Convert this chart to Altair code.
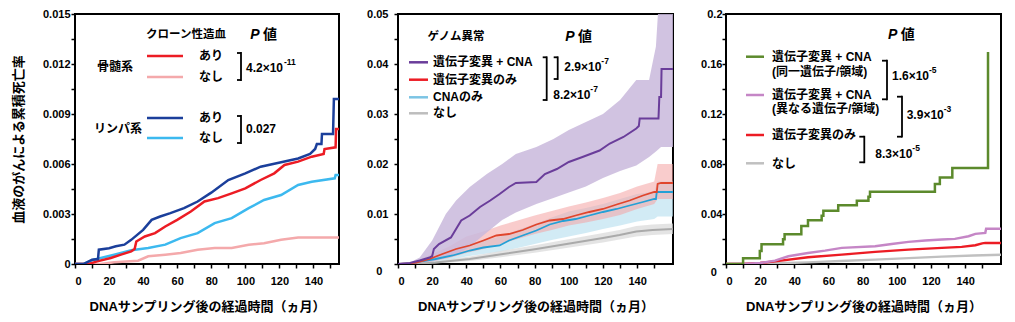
import altair as alt
import pandas as pd

# ---------------- data ----------------
# Left panel: clonal hematopoiesis (myeloid / lymphoid, yes / no)
L_mye_yes_x = [0, 8, 13, 21, 27, 33, 35, 36, 41, 47, 53, 60, 68, 76, 84, 92, 100, 109, 117, 123, 131, 139, 146, 146.5, 153, 153.3, 155]
L_mye_yes_y = [0, 0, 0.00016, 0.00036, 0.00056, 0.00076, 0.0009, 0.00135, 0.00165, 0.00185, 0.00225, 0.00265, 0.00315, 0.00375, 0.00395, 0.00424, 0.00454, 0.00504, 0.00544, 0.00594, 0.00614, 0.00644, 0.0066, 0.0069, 0.0070, 0.0081, 0.0081]
L_mye_no_x = [0, 15, 23, 37, 43, 53, 62, 72, 82, 92, 102, 111, 121, 131, 155]
L_mye_no_y = [0, 0, 0.0001, 0.0002, 0.00046, 0.00056, 0.00066, 0.00086, 0.00096, 0.00096, 0.00116, 0.00125, 0.00145, 0.00159, 0.00159]
L_lym_yes_x = [0, 5, 10, 13.5, 14, 20, 24, 29, 33, 40, 45, 50, 56, 64, 72, 80, 90, 100, 109, 121, 131, 138, 141, 142, 144.7, 145, 151.5, 152, 155]
L_lym_yes_y = [0, 0, 0.00026, 0.0003, 0.00086, 0.00095, 0.00106, 0.00116, 0.00145, 0.00205, 0.00265, 0.00285, 0.00305, 0.00335, 0.00375, 0.00428, 0.00504, 0.00544, 0.00584, 0.0061, 0.00633, 0.0066, 0.0069, 0.0072, 0.0072, 0.0078, 0.0078, 0.0099, 0.0099]
L_lym_no_x = [0, 5, 11, 23, 33, 43, 53, 62, 72, 82, 92, 102, 111, 121, 131, 139, 152.5, 153, 155]
L_lym_no_y = [0, 0, 0.00026, 0.00056, 0.00082, 0.00096, 0.00116, 0.00155, 0.00185, 0.00245, 0.00275, 0.00335, 0.00384, 0.00414, 0.00474, 0.00494, 0.00514, 0.00534, 0.00534]

# Middle panel: genomic abnormality
M_both_x = [0, 7, 12.7, 18.5, 20, 21, 24, 31, 34, 37, 42, 48, 54, 59.5, 65, 69, 81, 86, 93, 100, 108, 118, 124, 132, 139.5, 141, 141.5, 152.5, 153, 154, 154.3, 161]
M_both_y = [0, 0.0002, 0.0007, 0.0013, 0.0016, 0.0030, 0.0040, 0.0053, 0.0070, 0.0087, 0.0097, 0.0114, 0.0127, 0.0140, 0.0154, 0.0162, 0.0164, 0.0180, 0.0190, 0.0204, 0.0214, 0.0227, 0.0241, 0.0254, 0.0271, 0.0276, 0.0291, 0.0291, 0.0334, 0.0334, 0.0390, 0.0390]
M_both_band_x = [0, 7, 12.7, 20, 28, 34, 42, 52, 61, 69, 81, 91, 100, 110, 120, 130, 139.5, 147, 151, 154, 161]
M_both_hi = [0, 0.0003, 0.0013, 0.0047, 0.0100, 0.0127, 0.0154, 0.0180, 0.0200, 0.0220, 0.0234, 0.0250, 0.0268, 0.0284, 0.0300, 0.0328, 0.0368, 0.0368, 0.0435, 0.0600, 0.0600]
M_both_lo = [0, 0.0001, 0.0003, 0.0005, 0.0012, 0.0018, 0.0035, 0.0063, 0.0088, 0.0103, 0.0120, 0.0132, 0.0143, 0.0155, 0.0172, 0.0186, 0.0197, 0.0214, 0.0225, 0.0234, 0.0234]

M_mut_x = [0, 7, 10.7, 18.5, 26, 34, 42, 50, 57.6, 65, 73, 81, 88.8, 96.6, 104, 112, 120, 128, 135.6, 143.4, 150, 151.5, 152, 154, 161]
M_mut_y = [0, 0.0001, 0.0003, 0.0010, 0.0020, 0.0030, 0.0037, 0.0047, 0.0057, 0.0060, 0.0068, 0.0079, 0.0087, 0.0090, 0.0097, 0.0104, 0.0110, 0.0119, 0.0127, 0.0137, 0.0144, 0.0144, 0.0160, 0.0162, 0.0162]
M_band_x = [0, 7, 12, 20, 30, 40, 50, 60, 70, 80, 90, 100, 110, 120, 130, 140, 150, 152, 161]
M_mut_hi = [0, 0.0002, 0.0008, 0.0020, 0.0035, 0.0055, 0.0065, 0.0077, 0.0087, 0.0097, 0.0106, 0.0115, 0.0123, 0.0132, 0.0142, 0.0155, 0.0165, 0.0200, 0.0200]
M_mut_lo = [0, 0, 0.0001, 0.0005, 0.0012, 0.0022, 0.0030, 0.0040, 0.0050, 0.0060, 0.0068, 0.0077, 0.0083, 0.0090, 0.0098, 0.0110, 0.0120, 0.0130, 0.0130]

M_cna_x = [0, 7, 12.7, 22, 32, 42, 50, 59.5, 65, 73, 81, 88.8, 96.6, 104, 112, 120, 128, 135.6, 143.4, 150, 151, 151.5, 161]
M_cna_y = [0, 0.0001, 0.0005, 0.0010, 0.0017, 0.0027, 0.0033, 0.0037, 0.0047, 0.0057, 0.0067, 0.0079, 0.0086, 0.0090, 0.0097, 0.0104, 0.0110, 0.0117, 0.0124, 0.0130, 0.0130, 0.0144, 0.0144]
M_cna_hi = [0, 0.0001, 0.0006, 0.0015, 0.0025, 0.0040, 0.0047, 0.0055, 0.0068, 0.0080, 0.0093, 0.0105, 0.0112, 0.0120, 0.0130, 0.0140, 0.0145, 0.0165, 0.0165]
M_cna_lo = [0, 0, 0, 0.0003, 0.0008, 0.0015, 0.0020, 0.0025, 0.0032, 0.0040, 0.0048, 0.0055, 0.0062, 0.0070, 0.0077, 0.0085, 0.0090, 0.0095, 0.0095]

M_none_x = [0, 10, 22, 42, 61.5, 81, 100.5, 120, 129.7, 139.5, 149, 161]
M_none_y = [0, 0, 0.0003, 0.0010, 0.0020, 0.0030, 0.0041, 0.0052, 0.0058, 0.0065, 0.0068, 0.0070]
M_none_hi = [0, 0.0001, 0.0006, 0.0015, 0.0027, 0.0038, 0.0050, 0.0062, 0.0068, 0.0076, 0.0079, 0.0081]
M_none_lo = [0, 0, 0.0001, 0.0006, 0.0014, 0.0023, 0.0033, 0.0043, 0.0049, 0.0055, 0.0058, 0.0060]

# Right panel: mutation + CNA by gene/region
R_same_x = [0, 10, 19.8, 20.8, 33.4, 34.3, 44.1, 48, 56, 57, 65.7, 76.6, 83.4, 84.3, 122.3, 125.2, 132.5, 153.4]
R_same_y = [0, 0.0046, 0.0105, 0.0158, 0.0198, 0.0238, 0.0305, 0.0351, 0.0386, 0.0426, 0.0471, 0.0506, 0.0538, 0.0578, 0.0640, 0.0693, 0.0769, 0.1697]
R_diff_x = [0, 10, 20, 28.7, 36.5, 48, 58, 67.8, 87.3, 97, 106.8, 116.6, 126.4, 134, 142, 146, 151.8, 152.3, 161]
R_diff_y = [0, 0, 0.0008, 0.0027, 0.0062, 0.0088, 0.0107, 0.0129, 0.0142, 0.0160, 0.0177, 0.0188, 0.0196, 0.0201, 0.0222, 0.0241, 0.0249, 0.0282, 0.0282]
R_mut_x = [0, 10, 20, 28.7, 48, 67.8, 87.3, 106.8, 126.4, 138, 146, 150, 151.8, 161]
R_mut_y = [0, 0, 0.0008, 0.0021, 0.0054, 0.0075, 0.0097, 0.0115, 0.0129, 0.0137, 0.0150, 0.0165, 0.0169, 0.0169]
R_none_x = [0, 10, 30, 48, 67, 87.3, 107, 126.4, 145, 161]
R_none_y = [0, 0, 0.0006, 0.0013, 0.0024, 0.0035, 0.0047, 0.0059, 0.0068, 0.0075]

XTITLE = "DNAサンプリング後の経過時間（ヵ月）"
YTITLE = "血液のがんによる累積死亡率"

# ---------------- helpers ----------------
FONT = "Liberation Sans, Noto Sans CJK JP"
ONE = pd.DataFrame({"k": [0]})


def xspec(dom):
    return alt.X("x:Q", scale=alt.Scale(domain=dom, nice=False, zero=False),
                 axis=alt.Axis(values=list(range(0, 151, 10)),
                               labelExpr="datum.value % 20 == 0 ? datum.label : ''",
                               title=XTITLE, labelPadding=7, titlePadding=14))


def yspec(field, top, step, fmt, title, pad, hide_zero):
    n = int(round(top / (step / 2)))
    vals = [round(i * step / 2, 6) for i in range(n + 1)]
    cond = "round(datum.value / %g) %% 2 == 0" % (step / 2)
    if hide_zero:
        cond += " && datum.value > 0"
    ax = dict(values=vals, format=fmt, labelExpr=cond + " ? datum.label : ''",
              labelPadding=pad)
    if title:
        ax["title"] = title
        ax["titlePadding"] = 17
    else:
        ax["title"] = None
    return alt.Y(field, scale=alt.Scale(domain=[0, top], nice=False, zero=True),
                 axis=alt.Axis(**ax))


def line(xs, ys, color, width, X, Y, interp="linear"):
    df = pd.DataFrame({"x": xs, "y": ys})
    return alt.Chart(df).mark_line(color=color, strokeWidth=width, interpolate=interp,
                                   clip=True, strokeJoin="miter").encode(x=X, y=Y)


def band(xs, lo, hi, color, op, X, Ylo, interp="linear"):
    df = pd.DataFrame({"x": xs, "lo": lo, "hi": hi})
    return alt.Chart(df).mark_area(color=color, opacity=op, interpolate=interp,
                                   clip=True).encode(x=X, y=Ylo, y2=alt.Y2("hi:Q"))


def T(text, x, y, size=12, align="left", style="normal", weight="bold"):
    return alt.Chart(ONE).mark_text(text=text, align=align, baseline="middle", fontSize=size,
                                    fontWeight=weight, font=FONT, fontStyle=style,
                                    color="black").encode(x=alt.value(x), y=alt.value(y))


def HR(x1, x2, y, color="black", w=1.8):
    return alt.Chart(ONE).mark_rule(color=color, strokeWidth=w).encode(
        x=alt.value(x1), x2=alt.value(x2), y=alt.value(y))


def VR(x, y1, y2, w=1.8):
    return alt.Chart(ONE).mark_rule(color="black", strokeWidth=w).encode(
        x=alt.value(x), y=alt.value(y1), y2=alt.value(y2))


def bracket(x, y1, y2, arm=4):
    return [VR(x, y1 - 0.9, y2 + 0.9), HR(x - arm, x, y1), HR(x - arm, x, y2)]


def pval(x, y, base, sup, supdx):
    return [T(base, x, y, 12), T(sup, x + supdx, y - 6, 8.5)]


RED = "#ec1c24"

# ---------------- left panel ----------------
XL = xspec([0, 155])
YL = yspec("y:Q", 0.015, 0.003, ".3~f", YTITLE, 1, False)
left_layers = [
    line(L_mye_no_x, L_mye_no_y, "#f4a9ab", 2.5, XL, YL),
    line(L_lym_no_x, L_lym_no_y, "#3cb9ef", 2.5, XL, YL),
    line(L_mye_yes_x, L_mye_yes_y, RED, 2.5, XL, YL),
    line(L_lym_yes_x, L_lym_yes_y, "#1b3f9b", 2.5, XL, YL),
    T("クローン性造血", 111, 21, 11.5, "center"),
    T("P", 180, 21, 14, "center", "italic"),
    T("値", 195, 21, 14, "center"),
    T("骨髄系", 40, 53, 12, "center"),
    HR(72, 108, 42, RED, 2.5), HR(72, 108, 63, "#f4a9ab", 2.5),
    T("あり", 136, 42, 12, "center"), T("なし", 136, 63, 12, "center"),
    T("リンパ系", 43, 115, 12, "center"),
    HR(72, 108, 104, "#1b3f9b", 2.5), HR(72, 108, 124, "#3cb9ef", 2.5),
    T("あり", 136, 104, 12, "center"), T("なし", 136, 124, 12, "center"),
    *bracket(166, 39, 66), *pval(171, 54, "4.2×10", "-11", 38),
    *bracket(166, 102, 129), T("0.027", 171, 115, 12),
]
left = alt.layer(*left_layers).properties(width=264, height=250)

# ---------------- middle panel ----------------
XM = xspec([0, 161])
YM = yspec("y:Q", 0.05, 0.01, ".2~f", None, 6, True)
YMb = yspec("lo:Q", 0.05, 0.01, ".2~f", None, 6, True)
mid_layers = [
    band(M_band_x, M_cna_lo, M_cna_hi, "#bfe2f1", 0.7, XM, YMb),
    band(M_band_x, M_mut_lo, M_mut_hi, "#f4a3a3", 0.55, XM, YMb),
    band(M_none_x, M_none_lo, M_none_hi, "#d9d9d9", 0.7, XM, YMb),
    band(M_both_band_x, M_both_lo, M_both_hi, "#c9b8dc", 0.85, XM, YMb),
    line(M_none_x, M_none_y, "#aaaaaa", 2, XM, YM),
    line(M_cna_x, M_cna_y, "#24a0d6", 1.8, XM, YM),
    line(M_mut_x, M_mut_y, "#e0452c", 1.8, XM, YM),
    line(M_both_x, M_both_y, "#6a3d9a", 2, XM, YM),
    T("0", -18.7, 258, 11, "center"),
    T("ゲノム異常", 58, 23, 11.5, "center"),
    T("P", 172, 22.7, 14, "center", "italic"),
    T("値", 187, 22.7, 14, "center"),
    HR(11, 30, 48.3, "#6a3d9a", 2.5), HR(11, 30, 65.7, RED, 2.5),
    HR(11, 30, 83.3, "#7cc4e4", 2.5), HR(11, 30, 99.3, "#bdbdbd", 2.5),
    T("遺伝子変異 + CNA", 35, 48.3), T("遺伝子変異のみ", 35, 65.7),
    T("CNAのみ", 35, 83.3), T("なし", 35, 99.3),
    *bracket(148.7, 43.3, 86), *bracket(159.7, 43.3, 65),
    *pval(166.3, 53.3, "2.9×10", "-7", 37),
    *pval(155.3, 81, "8.2×10", "-7", 37),
]
mid = alt.layer(*mid_layers).properties(width=275, height=250)

# ---------------- right panel ----------------
XR = xspec([0, 161])
YR = yspec("y:Q", 0.2, 0.04, ".2~f", None, 0, True)
right_layers = [
    line(R_none_x, R_none_y, "#c0c0c0", 2.5, XR, YR),
    line(R_mut_x, R_mut_y, RED, 2.5, XR, YR),
    line(R_diff_x, R_diff_y, "#c586c6", 2.5, XR, YR),
    line(R_same_x, R_same_y, "#5c8a2c", 2.5, XR, YR, "step-after"),
    T("0", -12.3, 259.3, 11, "center"),
    T("P", 166.7, 21, 14, "center", "italic"),
    T("値", 181.7, 21, 14, "center"),
    HR(20, 38, 42.7, "#5c8a2c", 2.5), HR(20, 38, 81, "#c586c6", 2.5),
    HR(20, 38, 121, RED, 2.5), HR(20, 38, 149.3, "#c0c0c0", 2.5),
    T("遺伝子変異 + CNA", 46, 42.7), T("(同一遺伝子/領域)", 46, 57.7),
    T("遺伝子変異 + CNA", 46, 81), T("(異なる遺伝子/領域)", 46, 95.3),
    T("遺伝子変異のみ", 46, 121), T("なし", 46, 150),
    *bracket(161, 46.7, 85.3, 5), *pval(166, 62, "1.6×10", "-5", 37),
    *bracket(176, 82.7, 122.7, 5), *pval(180.7, 101, "3.9×10", "-3", 37),
    *bracket(138.3, 122.7, 148.3, 5), *pval(149.3, 140.3, "8.3×10", "-5", 37),
]
right = alt.layer(*right_layers).properties(width=275, height=250)

chart = alt.hconcat(left, mid, right, spacing=25).properties(
    padding={"left": 11, "top": 7, "right": 0, "bottom": 0},
    background="white",
).configure_view(stroke="black", strokeWidth=2).configure_axis(
    domain=False, grid=False, ticks=True, tickColor="black", tickWidth=1.5, tickSize=4,
    labelFont=FONT, labelFontSize=11, labelFontWeight="bold", labelColor="black",
    titleFont=FONT, titleFontSize=13, titleFontWeight="bold", titleColor="black",
)

chart.save("out.html", embed_options={"renderer": "svg", "actions": False})
